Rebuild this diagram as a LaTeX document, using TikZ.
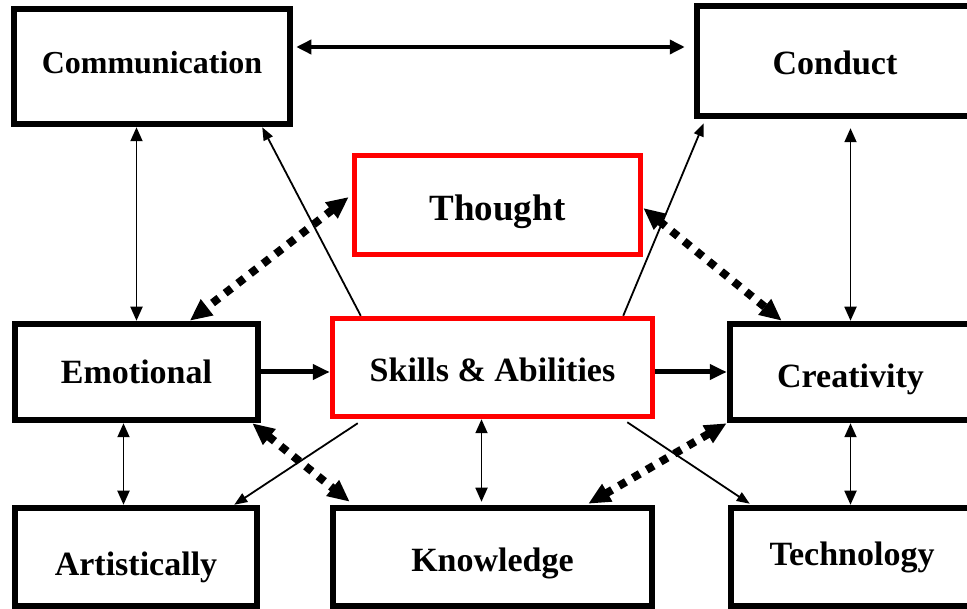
\documentclass[tikz,border=0pt]{standalone}
\usepackage{fontspec}
\setmainfont{Liberation Serif}
\usetikzlibrary{arrows.meta}
\begin{document}
\begin{tikzpicture}[x=1pt,y=-1pt,
  box/.style={draw=black, line width=6.5pt, outer sep=3.25pt, rectangle, inner sep=0pt,
    font=\fontsize{34}{40}\selectfont\bfseries, text depth=0pt},
  redbox/.style={box, draw=red, line width=5.5pt, outer sep=2.75pt},
  dbl/.style={line width=1.8pt, {Triangle[length=14pt,width=12pt]}-{Triangle[length=14pt,width=12pt]}},
  single/.style={line width=1.8pt, -{Triangle[length=13pt,width=10pt]}},
  hbar/.style={line width=3.5pt, {Triangle[length=15pt,width=14pt]}-{Triangle[length=15pt,width=14pt]}},
  fat/.style={line width=5pt, -{Triangle[length=17pt,width=15pt]}},
  dots/.style={line width=8pt, dash pattern=on 8pt off 8pt, {Triangle[length=22pt,width=19pt]}-{Triangle[length=22pt,width=19pt]}}
]
\useasboundingbox (0,0) rectangle (967,609);
\fill[white] (0,0) rectangle (967,609);
\clip (0,0) rectangle (967,609);

\node[box, minimum width=276pt, minimum height=115pt, text height=15pt, font=\fontsize{32}{38}\selectfont\bfseries] (comm) at (152,66.5) {Communication};
\node[box, minimum width=276pt, minimum height=110pt, text height=28pt] (cond) at (835,61) {Conduct};
\node[redbox, minimum width=286pt, minimum height=99pt, text height=32pt, font=\fontsize{37}{44}\selectfont\bfseries] (th) at (497.5,205) {Thought};
\node[box, minimum width=243pt, minimum height=96pt, text height=24pt] (emo) at (136.5,372) {Emotional};
\node[redbox, minimum width=320pt, minimum height=98pt, text height=29pt] (sk) at (492.5,367.5) {Skills \& Abilities};
\node[box, minimum width=241pt, minimum height=96pt, text height=32pt] (crea) at (850.5,372) {Creativity};
\node[box, minimum width=242pt, minimum height=98pt, text height=36pt] (art) at (136,557) {Artistically};
\node[box, minimum width=319pt, minimum height=98pt, text height=28pt] (know) at (492.5,557) {Knowledge};
\node[box, minimum width=242pt, minimum height=98pt, text height=16pt] (tech) at (852,557) {Technology};

% top horizontal
\draw[hbar, shorten <=3pt, shorten >=9pt] ([yshift=19.5pt]comm.east) -- ([yshift=14pt]cond.west);
% vertical double arrows
\draw[dbl] (emo.north) -- (emo.north |- comm.south);
\draw[dbl, shorten >=9pt] (crea.north) -- (crea.north |- cond.south);
\draw[dbl] ([xshift=-13pt]emo.south) -- ([xshift=-13pt]emo.south |- art.north);
\draw[dbl, shorten >=3pt] ([xshift=-11pt]sk.south) -- ([xshift=-11pt]sk.south |- know.north);
\draw[dbl] (crea.south) -- (crea.south |- tech.north);
% thick arrows
\draw[fat] (emo.east) -- (emo.east -| sk.west);
\draw[fat] (crea.west -| sk.east) -- (crea.west);
% thin single arrows
\draw[single] ([xshift=31pt]sk.north west) -- ([xshift=-31pt]comm.south east);
\draw[single] ([xshift=-32pt]sk.north east) -- ([xshift=10pt,yshift=-4pt]cond.south west);
\draw[single] ([xshift=28pt,yshift=-4pt]sk.south west) -- ([xshift=-26pt]art.north east);
\draw[single] ([xshift=-28pt,yshift=-3pt]sk.south east) -- ([xshift=22pt,yshift=1pt]tech.north west);
% dotted double arrows
\draw[dots] ([xshift=-3pt,yshift=8pt]th.west) -- ([xshift=178pt]emo.north west);
\draw[dots] ([yshift=-3pt]th.east) -- ([xshift=55pt]crea.north west);
\draw[dots] ([xshift=-9pt]emo.south east) -- ([xshift=20pt,yshift=3pt]know.north west);
\draw[dots] (crea.south west) -- ([xshift=-67pt,yshift=1pt]know.north east);
\end{tikzpicture}
\end{document}
